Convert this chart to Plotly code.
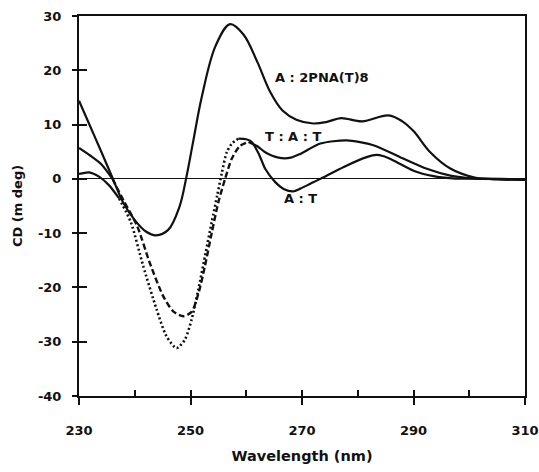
import plotly.graph_objects as go

# ---- data ----
wl_pna = [230, 232, 234, 236, 238, 240, 242, 243.8, 246, 248, 249.2, 250.5, 252,
          254.5, 257.1, 259.5, 262, 264.3, 266.5, 269, 272, 274.5, 277, 280.8,
          285.5, 288, 290, 293, 296.6, 300.8, 305, 310]
cd_pna = [14.4, 9.7, 5.0, 0.2, -4.5, -7.6, -9.7, -10.4, -9.4, -5.2, 0.0, 7.0, 15.0,
          24.5, 28.5, 26.6, 21.5, 16.0, 12.6, 10.9, 10.2, 10.5, 11.2, 10.6,
          11.7, 10.6, 8.8, 4.9, 1.9, 0.3, -0.1, -0.2]

wl_tat = [230, 232, 234, 236, 238, 240.4, 242.7, 245.1, 246.9, 248.7, 250.2, 251.4,
          252.6, 253.8, 255, 256.2, 257.4, 258.8, 260.4, 262, 263.4, 265.8, 268,
          269.7, 273.3, 278, 282.8, 287.6, 292.4, 296.6, 300.7, 305, 310]
cd_tat = [5.7, 4.3, 2.7, 0.0, -4.0, -8.6, -15.5, -21.6, -24.4, -25.3, -24.5, -21.2,
          -16.0, -10.0, -4.3, 0.0, 3.7, 6.0, 6.8, 6.0, 4.9, 3.9, 3.9,
          4.6, 6.5, 7.1, 6.2, 4.0, 1.85, 0.6, 0.1, 0.0, -0.1]

wl_at = [230, 231.8, 233.6, 235.4, 237.2, 239.3, 241.5, 243.9, 245.7, 247.5, 249,
         250.2, 251.4, 252.6, 253.8, 254.8, 255.6, 256.5, 257.5, 258.6, 260, 261,
         262.3, 263.4, 265.2, 266.8, 268.4, 269.7, 271.5, 273.3, 277.5, 281.6, 283.4,
         284.5, 286.4, 290, 293.6, 297, 302, 310]
cd_at = [0.9, 1.2, 0.4, -1.2, -3.6, -8.0, -16.0, -24.0, -29.0, -31.2, -29.6,
         -25.9, -20.4, -14.2, -8.0, -3.0, 1.0, 4.9, 6.6, 7.4, 7.3, 6.8,
         4.5, 1.85, -0.6, -1.9, -2.3, -1.8, -0.9, 0.0, 2.2, 4.0, 4.4,
         4.2, 3.4, 1.5, 0.5, 0.1, 0.0, -0.1]

labels = ["A : 2PNA(T)8", "T : A : T", "A : T"]
label_x = [273.5, 268.4, 269.7]
label_y = [18.7, 7.8, -3.7]

x_ticks = [230, 250, 270, 290, 310]
x_tick_text = ["230", "250", "270", "290", "310"]
y_ticks = [30, 20, 10, 0, -10, -20, -30, -40]
y_tick_text = ["30", "20", "10", "0", "-10", "-20", "-30", "-40"]

INK = "#111111"

fig = go.Figure()


def seg(xs, ys, i0, i1, dash, width=2.2, smooth=0.7):
    fig.add_trace(go.Scatter(
        x=xs[i0:i1], y=ys[i0:i1], mode="lines",
        line=dict(color=INK, width=width, dash=dash, shape="spline", smoothing=smooth),
        showlegend=False, hoverinfo="skip"))


# A : 2PNA(T)8 (solid)
seg(wl_pna, cd_pna, 0, len(wl_pna), "solid", smooth=1.0)

# T : A : T  (solid ends, dashed middle)
i_a = wl_tat.index(236)
i_b = wl_tat.index(260.4)
seg(wl_tat, cd_tat, 0, i_a + 1, "solid")
seg(wl_tat, cd_tat, i_a, i_b + 1, "6px,3px", 2.4)
seg(wl_tat, cd_tat, i_b, len(wl_tat), "solid")

# A : T  (solid ends, dotted middle)
j_a = wl_at.index(237.2)
j_b = wl_at.index(258.6)
seg(wl_at, cd_at, 0, j_a + 1, "solid")
seg(wl_at, cd_at, j_a, j_b + 1, "2px,2.5px", 2.6)
seg(wl_at, cd_at, j_b, len(wl_at), "solid")

# invisible trace for overlay axes (inside ticks)
fig.add_trace(go.Scatter(x=[], y=[], xaxis="x2", yaxis="y2", showlegend=False))

for t, lx, ly in zip(labels, label_x, label_y):
    fig.add_annotation(x=lx, y=ly, text=t, showarrow=False,
                       font=dict(family="DejaVu Sans", size=13, color=INK, weight="bold"))

tickfont = dict(family="DejaVu Sans", size=13, color=INK, weight="bold")

fig.update_layout(
    width=539, height=472,
    margin=dict(l=79, r=14, t=16, b=76),
    paper_bgcolor="white", plot_bgcolor="white",
    xaxis=dict(range=[230, 310], tickvals=x_ticks, ticktext=x_tick_text,
               ticks="outside", ticklen=7, automargin=False,
               tickwidth=2, tickcolor=INK, showline=True, linewidth=2, linecolor=INK,
               mirror=True, showgrid=False, zeroline=False, tickfont=tickfont,
               ticklabelstandoff=14,
               title=dict(text="Wavelength (nm)", standoff=14,
                          font=dict(family="DejaVu Sans", size=14.5, color=INK, weight="bold"))),
    yaxis=dict(range=[-40, 30], tickvals=y_ticks, ticktext=y_tick_text,
               ticks="outside", ticklen=5, automargin=False,
               tickwidth=2, tickcolor=INK, showline=True, linewidth=2, linecolor=INK,
               mirror=True, showgrid=False, zeroline=True, zerolinecolor=INK,
               zerolinewidth=1.2, tickfont=tickfont, ticklabelstandoff=8,
               title=dict(text="CD (m deg)", standoff=12,
                          font=dict(family="DejaVu Sans", size=13, color=INK, weight="bold"))),
    xaxis2=dict(range=[230, 310], overlaying="x", anchor="y2", side="bottom",
                tickvals=[240, 250, 260, 270, 280, 290, 300], ticks="inside", ticklen=6,
                tickwidth=1.8, tickcolor=INK, showticklabels=False, showline=False,
                showgrid=False, zeroline=False, automargin=False),
    yaxis2=dict(range=[-40, 30], overlaying="y", anchor="x2", side="left",
                tickvals=y_ticks, ticks="inside", ticklen=8, tickwidth=2,
                tickcolor=INK, showticklabels=False, showline=False,
                showgrid=False, zeroline=False, automargin=False),
)

fig.write_html("out.html")
